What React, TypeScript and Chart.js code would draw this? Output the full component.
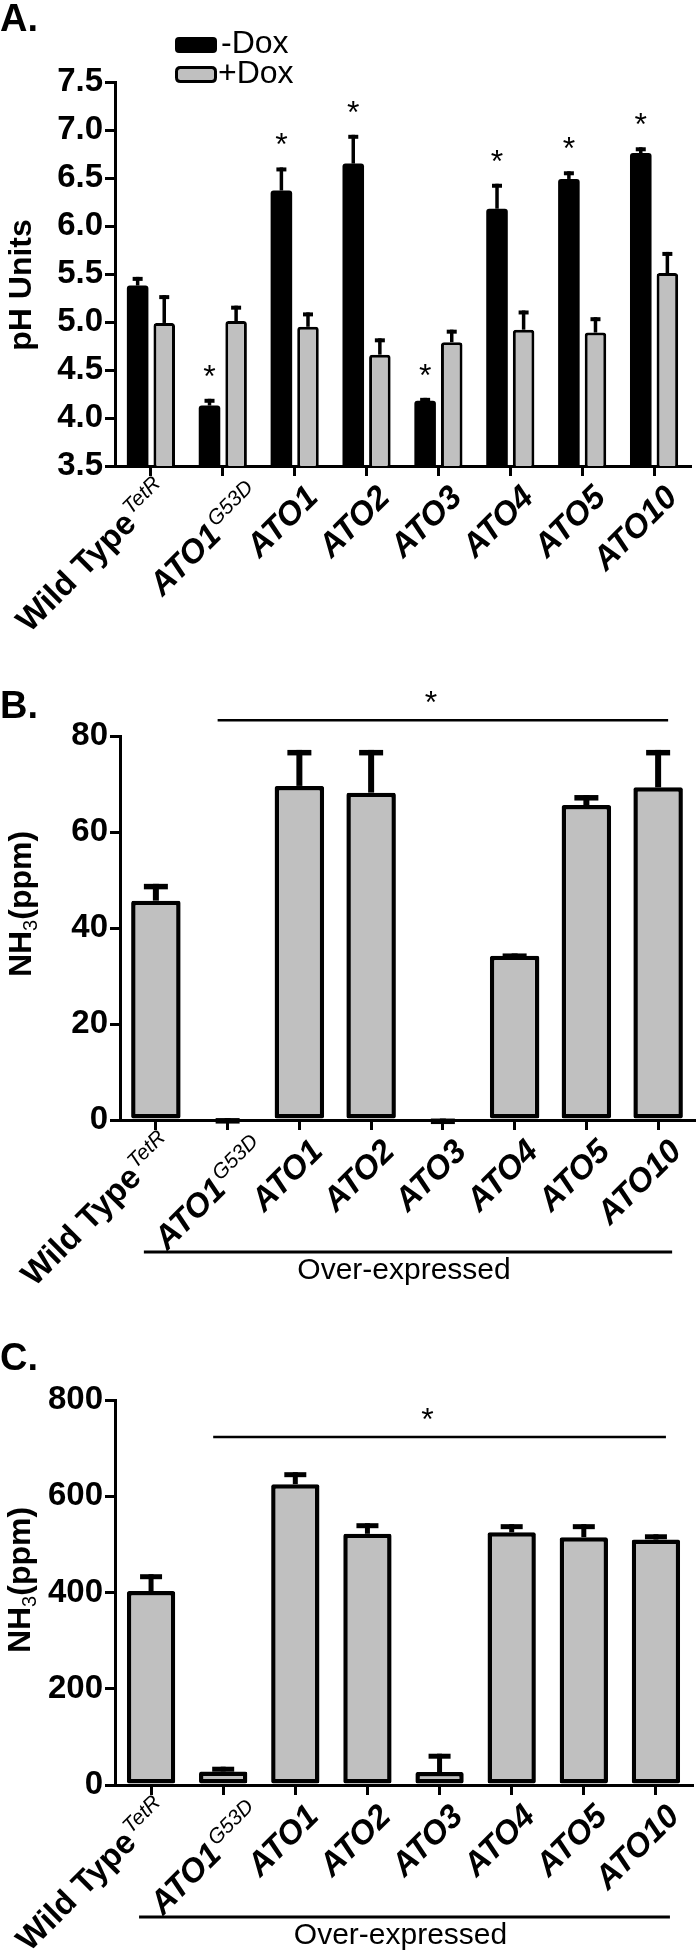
import React, { useEffect, useRef } from "react";
import { Chart, registerables } from "chart.js";

Chart.register(...registerables);

const FONT = '"Liberation Sans", Arial, Helvetica, sans-serif';
const GRAY = "#c0c0c0";

// ---------- shared categories ----------
const categories = ["Wild Type", "ATO1", "ATO1", "ATO2", "ATO3", "ATO4", "ATO5", "ATO10"];
const categorySup = ["TetR", "G53D", "", "", "", "", "", ""];
const categoryItalic = [false, true, true, true, true, true, true, true];

// ---------- Panel A: pH ----------
const phTicks = [3.5, 4.0, 4.5, 5.0, 5.5, 6.0, 6.5, 7.0, 7.5];
const phMinusDox = [5.38, 4.13, 6.37, 6.65, 4.18, 6.18, 6.49, 6.76];
const phMinusDoxErr = [0.09, 0.07, 0.24, 0.3, 0.03, 0.26, 0.08, 0.06];
const phPlusDox = [4.99, 5.01, 4.95, 4.66, 4.79, 4.92, 4.89, 5.51];
const phPlusDoxErr = [0.29, 0.16, 0.15, 0.17, 0.13, 0.2, 0.16, 0.22];
const phSignificant = [false, true, true, true, true, true, true, true];

// ---------- Panel B: NH3 ----------
const nh3BTicks = [0, 20, 40, 60, 80];
const nh3B = [45.7, 0, 69.6, 68.2, 0, 34.2, 65.6, 69.3];
const nh3BErr = [3.5, 0.4, 7.5, 8.9, 0.3, 0.5, 2.1, 7.8];
const bracketB = [1, 7];
const bracketBLevel = 83.3;

// ---------- Panel C: NH3 ----------
const nh3CTicks = [0, 200, 400, 600, 800];
const nh3C = [403, 28, 625, 522, 27, 525, 515, 510];
const nh3CErr = [35, 10, 25, 22, 38, 17, 27, 11];
const bracketC = [1, 7];
const bracketCLevel = 723;

// ---------- layout-only tweaks for the rotated labels (screen px) ----------
const LABEL_ANGLE = Math.PI / 4;
const labelNudgeX = [-6, 15, 0, 0, 0, 0, 0, 0];
const labelNudgeY = [-6, -2, 0, 0, 0, 0, 0, 0];

// ---------- plugins ----------
const errorBarPlugin = {
  id: "errorBars",
  afterDatasetsDraw(chart: any, _args: any, opts: any) {
    if (!opts || !opts.errors) return;
    const ctx = chart.ctx;
    const ys = chart.scales.y;
    opts.errors.forEach((errs: number[], di: number) => {
      const meta = chart.getDatasetMeta(di);
      const vals = chart.data.datasets[di].data as number[];
      meta.data.forEach((el: any, i: number) => {
        const v = vals[i];
        const e = errs[i];
        if (!e) return;
        const base = ys.getPixelForValue(v);
        const top = ys.getPixelForValue(v + e);
        ctx.save();
        ctx.strokeStyle = "#000";
        ctx.lineCap = "butt";
        ctx.lineWidth = opts.stem;
        ctx.beginPath();
        ctx.moveTo(el.x, base);
        ctx.lineTo(el.x, top);
        ctx.stroke();
        ctx.lineWidth = opts.capThick;
        ctx.beginPath();
        ctx.moveTo(el.x - opts.capW / 2, top + opts.capThick / 2);
        ctx.lineTo(el.x + opts.capW / 2, top + opts.capThick / 2);
        ctx.stroke();
        ctx.restore();
      });
    });
  },
};

const xLabelPlugin = {
  id: "xLabels",
  afterDraw(chart: any, _args: any, opts: any) {
    const ctx = chart.ctx;
    const xs = chart.scales.x;
    const bottom = chart.chartArea.bottom;
    categories.forEach((name, i) => {
      const x = xs.getPixelForValue(i);
      ctx.save();
      ctx.translate(x + opts.dx + labelNudgeX[i], bottom + opts.dy + labelNudgeY[i]);
      ctx.rotate(-LABEL_ANGLE);
      ctx.fillStyle = "#000";
      ctx.textAlign = "right";
      ctx.textBaseline = "alphabetic";
      let end = 0;
      const sup = categorySup[i];
      if (sup) {
        ctx.font = `italic ${opts.supSize}px ${FONT}`;
        ctx.fillText(sup, 0, -opts.supRaise);
        end = -ctx.measureText(sup).width - 2;
      }
      ctx.font = categoryItalic[i]
        ? `italic bold ${opts.size}px ${FONT}`
        : `bold ${opts.wtSize}px ${FONT}`;
      ctx.fillText(name, end, 0);
      ctx.restore();
    });
  },
};

function drawYTitle(ctx: any, cx: number, cy: number, parts: { text: string; font: string; dy: number }[]) {
  ctx.save();
  ctx.translate(cx, cy);
  ctx.rotate(-Math.PI / 2);
  ctx.fillStyle = "#000";
  ctx.textAlign = "left";
  ctx.textBaseline = "alphabetic";
  let total = 0;
  parts.forEach((p) => {
    ctx.font = p.font;
    total += ctx.measureText(p.text).width;
  });
  let x = -total / 2;
  parts.forEach((p) => {
    ctx.font = p.font;
    ctx.fillText(p.text, x, p.dy);
    x += ctx.measureText(p.text).width;
  });
  ctx.restore();
}

function drawText(ctx: any, text: string, x: number, y: number, font: string, align = "left") {
  ctx.save();
  ctx.fillStyle = "#000";
  ctx.font = font;
  ctx.textAlign = align;
  ctx.textBaseline = "alphabetic";
  ctx.fillText(text, x, y);
  ctx.restore();
}

function drawStar(ctx: any, x: number, centerY: number) {
  drawText(ctx, "*", x, centerY + 18, `normal 32px ${FONT}`, "center");
}

function roundRect(ctx: any, x: number, y: number, w: number, h: number, r: number) {
  ctx.beginPath();
  ctx.moveTo(x + r, y);
  ctx.lineTo(x + w - r, y);
  ctx.quadraticCurveTo(x + w, y, x + w, y + r);
  ctx.lineTo(x + w, y + h - r);
  ctx.quadraticCurveTo(x + w, y + h, x + w - r, y + h);
  ctx.lineTo(x + r, y + h);
  ctx.quadraticCurveTo(x, y + h, x, y + h - r);
  ctx.lineTo(x, y + r);
  ctx.quadraticCurveTo(x, y, x + r, y);
  ctx.closePath();
}

function nh3Title(ctx: any, cx: number, cy: number) {
  drawYTitle(ctx, cx, cy, [
    { text: "NH", font: `bold 32px ${FONT}`, dy: 0 },
    { text: "3", font: `normal 20px ${FONT}`, dy: 6 },
    { text: "(ppm)", font: `bold 32px ${FONT}`, dy: 0 },
  ]);
}

function bracket(chart: any, from: number, to: number, level: number) {
  const ctx = chart.ctx;
  const xs = chart.scales.x;
  const ys = chart.scales.y;
  const x1 = xs.getPixelForValue(from) - 10;
  const x2 = xs.getPixelForValue(to) + 10;
  const y = ys.getPixelForValue(level);
  ctx.save();
  ctx.strokeStyle = "#000";
  ctx.lineWidth = 2.5;
  ctx.beginPath();
  ctx.moveTo(x1, y);
  ctx.lineTo(x2, y);
  ctx.stroke();
  ctx.restore();
  drawStar(ctx, (x1 + x2) / 2 - 12, y - 25);
}

function overExpressed(chart: any) {
  const ctx = chart.ctx;
  const xs = chart.scales.x;
  const y = chart.chartArea.bottom + 132;
  const x1 = xs.getPixelForValue(0) - 12;
  const x2 = xs.getPixelForValue(categories.length - 1) + 14;
  ctx.save();
  ctx.strokeStyle = "#000";
  ctx.lineWidth = 3;
  ctx.beginPath();
  ctx.moveTo(x1, y);
  ctx.lineTo(x2, y);
  ctx.stroke();
  ctx.restore();
  drawText(ctx, "Over-expressed", (x1 + x2) / 2 - 4, y + 27, `normal 30px ${FONT}`, "center");
}

// ---------- scales ----------
function yScale(min: number, max: number, ticksArr: number[], axisX: number, fmt: (v: number) => string) {
  return {
    type: "linear",
    min,
    max,
    afterBuildTicks: (s: any) => {
      s.ticks = ticksArr.map((v) => ({ value: v }));
    },
    ticks: {
      color: "#000",
      font: { family: FONT, size: 33, weight: "bold" },
      padding: 2,
      callback: (v: any) => fmt(Number(v)),
    },
    grid: {
      drawOnChartArea: false,
      drawTicks: true,
      tickLength: 10,
      tickWidth: 3,
      tickColor: "#000",
      color: "#000",
      lineWidth: 3,
    },
    border: { display: true, color: "#000", width: 3 },
    afterFit: (s: any) => {
      s.width = axisX;
    },
  };
}

function xScale(bottomSpace: number) {
  return {
    type: "category",
    offset: true,
    ticks: { display: false },
    grid: {
      offset: false,
      drawOnChartArea: false,
      drawTicks: true,
      tickLength: 10,
      tickWidth: 3,
      tickColor: "#000",
      color: "#000",
      lineWidth: 3,
    },
    border: { display: true, color: "#000", width: 3 },
    afterFit: (s: any) => {
      s.height = bottomSpace;
    },
  };
}

const labels = categories.map((c, i) => c + categorySup[i]);
const xLabelOpts = { dx: 25, dy: 33, size: 33, wtSize: 33, supSize: 21, supRaise: 12 };

// ---------- chart configs ----------
function buildA(): any {
  const H = 660;
  const extras = {
    id: "extrasA",
    afterDraw(chart: any) {
      const ctx = chart.ctx;
      drawText(ctx, "A.", 0, 31, `bold 38px ${FONT}`);
      ctx.save();
      ctx.fillStyle = "#000";
      roundRect(ctx, 175, 37, 42, 16, 4);
      ctx.fill();
      ctx.fillStyle = GRAY;
      ctx.strokeStyle = "#000";
      ctx.lineWidth = 3;
      roundRect(ctx, 176.5, 67.5, 39, 14, 4);
      ctx.fill();
      ctx.stroke();
      ctx.restore();
      drawText(ctx, "-Dox", 221, 53, `normal 32px ${FONT}`);
      drawText(ctx, "+Dox", 218, 83, `normal 32px ${FONT}`);
      drawYTitle(ctx, 31, 285, [{ text: "pH Units", font: `bold 32px ${FONT}`, dy: 0 }]);
      const ys = chart.scales.y;
      const meta = chart.getDatasetMeta(0);
      phSignificant.forEach((s, i) => {
        if (!s) return;
        const el: any = meta.data[i];
        const y = ys.getPixelForValue(phMinusDox[i] + phMinusDoxErr[i]);
        drawStar(ctx, el.x, y - 30);
      });
    },
  };
  return {
    type: "bar",
    data: {
      labels,
      datasets: [
        {
          label: "-Dox",
          data: phMinusDox,
          backgroundColor: "#000",
          borderColor: "#000",
          borderWidth: 0,
          borderRadius: 3,
          borderSkipped: "start",
          categoryPercentage: 0.74,
          barPercentage: 0.81,
        },
        {
          label: "+Dox",
          data: phPlusDox,
          backgroundColor: GRAY,
          borderColor: "#000",
          borderWidth: 3,
          borderRadius: 3,
          borderSkipped: false,
          categoryPercentage: 0.74,
          barPercentage: 0.81,
        },
      ],
    },
    options: {
      animation: false,
      responsive: false,
      maintainAspectRatio: false,
      devicePixelRatio: 1,
      layout: { padding: { left: 0, right: 700 - 690, top: 82, bottom: 0 } },
      plugins: {
        legend: { display: false },
        tooltip: { enabled: false },
        errorBars: { errors: [phMinusDoxErr, phPlusDoxErr], stem: 3.5, capW: 10, capThick: 4 },
        xLabels: xLabelOpts,
      },
      scales: {
        x: xScale(H - 466),
        y: yScale(3.5, 7.5, phTicks, 115, (v) => v.toFixed(1)),
      },
    },
    plugins: [errorBarPlugin, xLabelPlugin, extras],
  };
}

function buildB(): any {
  const H = 660;
  const extras = {
    id: "extrasB",
    afterDraw(chart: any) {
      const ctx = chart.ctx;
      drawText(ctx, "B.", 0, 78, `bold 38px ${FONT}`);
      nh3Title(ctx, 31, 264);
      bracket(chart, bracketB[0], bracketB[1], bracketBLevel);
      overExpressed(chart);
    },
  };
  return {
    type: "bar",
    data: {
      labels,
      datasets: [
        {
          label: "NH3",
          data: nh3B,
          backgroundColor: GRAY,
          borderColor: "#000",
          borderWidth: 4.5,
          borderRadius: 2,
          borderSkipped: false,
          categoryPercentage: 1,
          barPercentage: 0.69,
        },
      ],
    },
    options: {
      animation: false,
      responsive: false,
      maintainAspectRatio: false,
      devicePixelRatio: 1,
      layout: { padding: { left: 0, right: 700 - 694, top: 96, bottom: 0 } },
      plugins: {
        legend: { display: false },
        tooltip: { enabled: false },
        errorBars: { errors: [nh3BErr], stem: 6, capW: 24, capThick: 5.5 },
        xLabels: xLabelOpts,
      },
      scales: {
        x: xScale(H - 480),
        y: yScale(0, 80, nh3BTicks, 120, (v) => String(Math.round(v))),
      },
    },
    plugins: [errorBarPlugin, xLabelPlugin, extras],
  };
}

function buildC(): any {
  const H = 660;
  const extras = {
    id: "extrasC",
    afterDraw(chart: any) {
      const ctx = chart.ctx;
      drawText(ctx, "C.", 0, 70, `bold 38px ${FONT}`);
      nh3Title(ctx, 30, 280);
      bracket(chart, bracketC[0], bracketC[1], bracketCLevel);
      overExpressed(chart);
    },
  };
  return {
    type: "bar",
    data: {
      labels,
      datasets: [
        {
          label: "NH3",
          data: nh3C,
          backgroundColor: GRAY,
          borderColor: "#000",
          borderWidth: 4.5,
          borderRadius: 2,
          borderSkipped: false,
          categoryPercentage: 1,
          barPercentage: 0.67,
        },
      ],
    },
    options: {
      animation: false,
      responsive: false,
      maintainAspectRatio: false,
      devicePixelRatio: 1,
      layout: { padding: { left: 0, right: 700 - 692, top: 100, bottom: 0 } },
      plugins: {
        legend: { display: false },
        tooltip: { enabled: false },
        errorBars: { errors: [nh3CErr], stem: 5, capW: 22, capThick: 5 },
        xLabels: xLabelOpts,
      },
      scales: {
        x: xScale(H - 485),
        y: yScale(0, 800, nh3CTicks, 115, (v) => String(Math.round(v))),
      },
    },
    plugins: [errorBarPlugin, xLabelPlugin, extras],
  };
}

function ChartPanel({ top, height, build }: { top: number; height: number; build: () => any }) {
  const ref = useRef<HTMLCanvasElement>(null);
  useEffect(() => {
    const chart = new Chart(ref.current as HTMLCanvasElement, build());
    return () => chart.destroy();
  }, []);
  return (
    <canvas
      ref={ref}
      width={700}
      height={height}
      style={{ position: "absolute", left: 0, top, width: 700, height }}
    />
  );
}

export default function App() {
  return (
    <div style={{ position: "absolute", left: 0, top: 0, width: 700, height: 1960, background: "#fff", overflow: "hidden" }}>
      <ChartPanel top={0} height={660} build={buildA} />
      <ChartPanel top={640} height={660} build={buildB} />
      <ChartPanel top={1300} height={660} build={buildC} />
    </div>
  );
}
